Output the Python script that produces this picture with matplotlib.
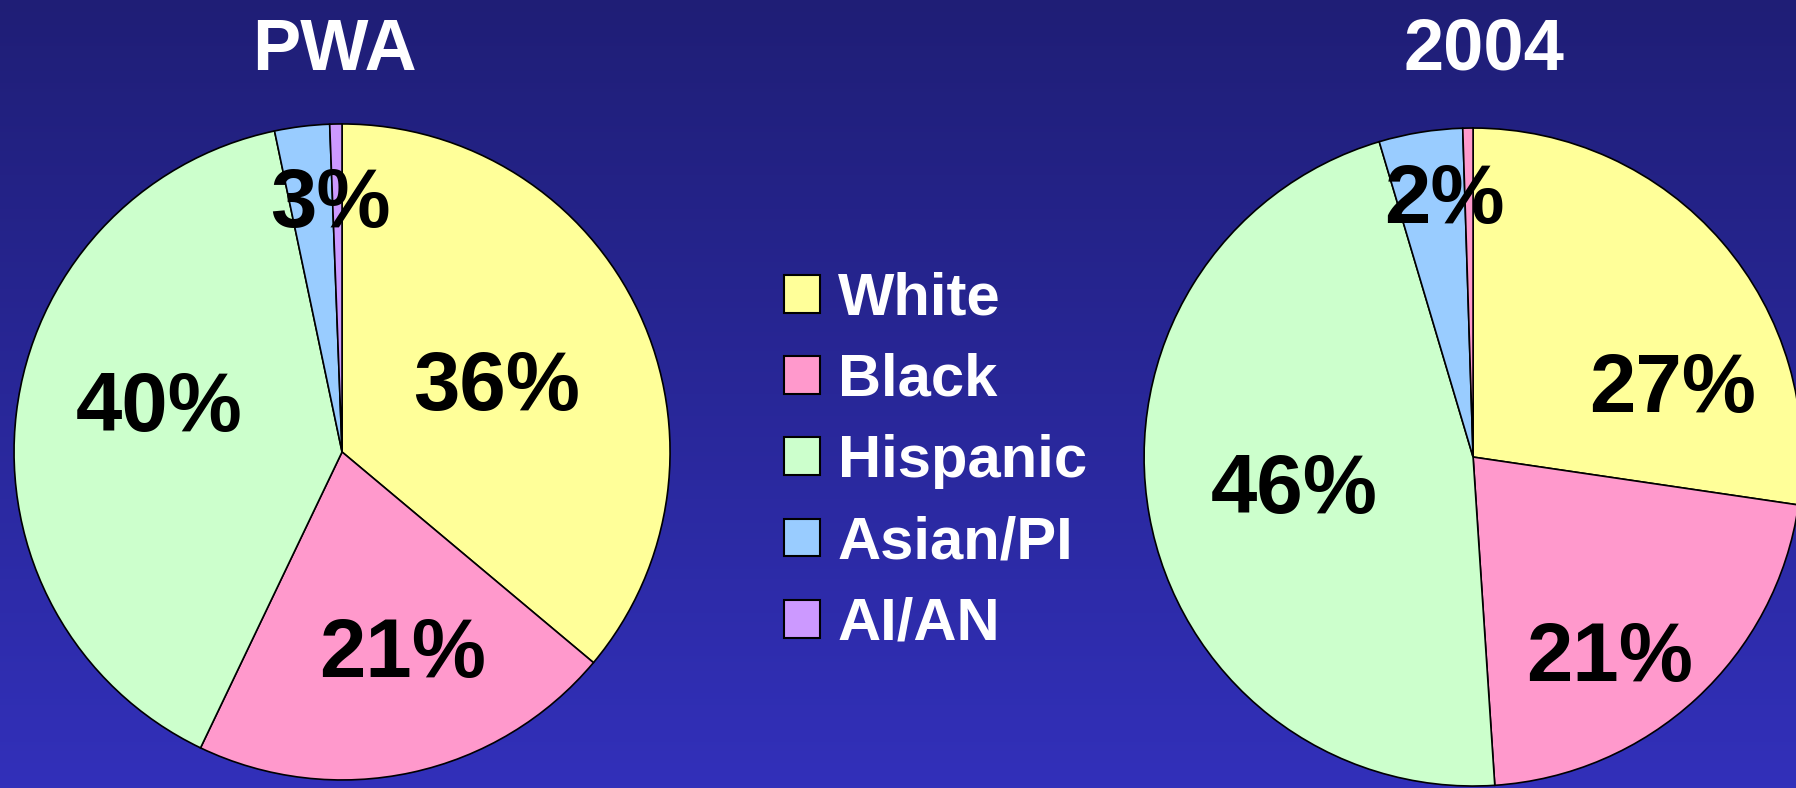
import numpy as np
import matplotlib.pyplot as plt
from matplotlib.patches import Patch

plt.rcParams['font.family'] = ['Liberation Sans', 'DejaVu Sans']
plt.rcParams['font.weight'] = 'bold'

categories = ["White", "Black", "Hispanic", "Asian/PI", "AI/AN"]
colors = ["#FFFF99", "#FF99CC", "#CCFFCC", "#99CCFF", "#CC99FF"]

pwa_values = [36.1, 21.0, 39.6, 2.7, 0.6]
pwa_labels = ["36%", "21%", "40%", "3%", ""]

y2004_values = [27.3, 21.6, 46.4, 4.1, 0.5]
y2004_labels = ["27%", "21%", "46%", "2%", ""]
# the small slice in the 2004 pie is drawn pink in the original
y2004_colors = ["#FFFF99", "#FF99CC", "#CCFFCC", "#99CCFF", "#FF99CC"]

fig = plt.figure(figsize=(17.96, 7.88), dpi=100)

# gradient background
bg = fig.add_axes([0, 0, 1, 1])
grad = np.linspace(0, 1, 256).reshape(-1, 1)
top = np.array([31, 30, 118]) / 255
bot = np.array([50, 48, 186]) / 255
img = top + grad[..., None] * (bot - top)
bg.imshow(img, aspect='auto', extent=[0, 1, 0, 1])
bg.axis('off')


def draw_pie(rect, values, cols, labels, dists, shifts):
    ax = fig.add_axes(rect)
    wedges, _ = ax.pie(values, colors=cols, startangle=90, counterclock=False,
                       wedgeprops=dict(edgecolor='black', linewidth=1.2))
    for w, lab, d, s in zip(wedges, labels, dists, shifts):
        if not lab:
            continue
        ang = np.deg2rad((w.theta1 + w.theta2) / 2 - s)
        ax.text(d * np.cos(ang), d * np.sin(ang), lab, ha='center',
                va='center_baseline', fontsize=60, fontweight='bold', color='black')
    ax.set_xlim(-1, 1)
    ax.set_ylim(-1, 1)
    ax.set_aspect('equal')
    ax.axis('off')
    return ax


draw_pie([0.0078, 0.0102, 0.3653, 0.8325], pwa_values, colors, pwa_labels,
         [0.52, 0.62, 0.58, 0.78, 0], [0, -5, 9, 4.5, 0])
draw_pie([0.637, 0.0025, 0.3664, 0.835], y2004_values, y2004_colors, y2004_labels,
         [0.65, 0.72, 0.55, 0.81, 0], [20, 7.5, 2, 3, 0])

fig.text(0.186, 0.945, "PWA", ha='center', va='center_baseline', fontsize=52,
         fontweight='bold', color='white')
fig.text(0.826, 0.945, "2004", ha='center', va='center_baseline', fontsize=52,
         fontweight='bold', color='white')

handles = [Patch(facecolor=c, edgecolor='black', linewidth=1.5) for c in colors]
leg = fig.legend(handles, categories, loc='center left', bbox_to_anchor=(0.4065, 0.414),
                 frameon=False, fontsize=43, handlelength=0.6, handleheight=0.6,
                 handletextpad=0.3, labelspacing=0.44)
for t in leg.get_texts():
    t.set_color('white')
    t.set_fontweight('bold')

fig.savefig("out.png", dpi=100)
